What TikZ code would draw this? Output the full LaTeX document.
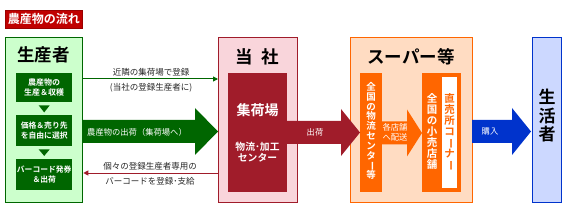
\documentclass[tikz,border=0pt]{standalone}
\usepackage{fontspec}
\setmainfont{Noto Sans CJK JP}[BoldFont={Noto Sans CJK JP Bold}]
\usetikzlibrary{arrows.meta,calc}
\definecolor{titlered}{HTML}{C00000}
\definecolor{dgreen}{HTML}{006600}
\definecolor{lgreen}{HTML}{CCFFCC}
\definecolor{dred}{HTML}{A01C2A}
\definecolor{lpink}{HTML}{F9D5DB}
\definecolor{orng}{HTML}{FF6600}
\definecolor{lorng}{HTML}{FFDCC2}
\definecolor{blu}{HTML}{0033CC}
\definecolor{lblu}{HTML}{CCD8FF}
\newcommand\vbar{\makebox[1em]{\smash{\rotatebox[origin=c]{-90}{ー}}}\vphantom{国}}
\newcommand\fatarrow[5]{%
  \fill[#1] (#2,{#5-11.5}) -- (#3,{#5-11.5}) -- (#3,{#5-23.5}) -- (#4,#5)
    -- (#3,{#5+23.5}) -- (#3,{#5+11.5}) -- (#2,{#5+11.5}) -- cycle;}
\tikzset{
  framebox/.style={draw, line width=1.3pt, rectangle, inner sep=0pt, anchor=north west},
  solidbox/.style={rectangle, inner sep=0pt, anchor=north west},
  lbl/.style={text=black!85, font=\fontsize{8.5}{10}\selectfont, inner sep=0pt},
  wlbl/.style={text=white, font=\fontsize{8.3}{10}\selectfont, inner sep=0pt},
  bigtitle/.style={font=\bfseries\fontsize{17.5}{19}\selectfont, inner sep=0pt},
  smallwhite/.style={text=white, font=\bfseries\fontsize{7.8}{10}\selectfont, align=center, inner sep=0pt},
  thin/.style={line width=1pt},
}
\begin{document}
\begin{tikzpicture}[x=1pt,y=-1pt]
\useasboundingbox (0,0) rectangle (564,208);
% title
\node[solidbox, fill=titlered, draw=titlered!80!black, line width=0.6pt, minimum width=77, minimum height=18] (title) at (5,10) {};
\node[text=white, font=\bfseries\fontsize{12}{12}\selectfont, inner sep=0pt] at (title.center) {農産物の流れ};
% producer
\node[framebox, draw=dgreen, fill=lgreen, minimum width=77, minimum height=165] (farmer) at (5,37) {};
\node[bigtitle] at (43.5,55) {生産者};
\node[solidbox, fill=dgreen, minimum width=56, minimum height=29] (f1) at (16,73) {};
\node[solidbox, fill=dgreen, minimum width=56, minimum height=31] (f2) at (16,115) {};
\node[solidbox, fill=dgreen, minimum width=56, minimum height=31] (f3) at (16,159) {};
\node[smallwhite, font=\bfseries\fontsize{8}{10}\selectfont] at (f1.center) {農産物の\\生産＆収穫};
\node[smallwhite] at (f2.center) {価格＆売り先\\を自由に選択};
\node[smallwhite] at (f3.center) {バーコード発券\\＆出荷};
\fill[dgreen] ($(f1.south)+(-5.5,3)$) -- ($(f1.south)+(5.5,3)$) -- ($(f1.south)+(0,10)$) -- cycle;
\fill[dgreen] ($(f2.south)+(-5.5,3)$) -- ($(f2.south)+(5.5,3)$) -- ($(f2.south)+(0,9.5)$) -- cycle;
% company
\node[framebox, draw=dred, fill=lpink, minimum width=79, minimum height=165] (company) at (218,37) {};
\node[bigtitle] at (257.5,57) {当\hspace{0.5em}社};
\node[solidbox, fill=dred, minimum width=59, minimum height=119] (c1) at (228,73) {};
\node[text=white, font=\bfseries\fontsize{14}{14}\selectfont, inner sep=0pt] at (257.5,110) {集荷場};
\node[text=white, font=\bfseries\fontsize{9.8}{10.5}\selectfont, align=center, inner sep=0pt] at (257.5,152) {物流･加工\\センター};
% supermarket
\node[framebox, draw=orng, fill=lorng, minimum width=122, minimum height=165] (super) at (350,37) {};
\node[bigtitle] at (411,57) {スーパー等};
\node[solidbox, fill=orng, minimum width=22, minimum height=119] (s1) at (360,73) {};
\node[solidbox, fill=orng, minimum width=39, minimum height=119] (s2) at (422,73) {};
\node[solidbox, fill=white, minimum width=15, minimum height=111] (s3) at (442,77) {};
\node[text=white, font=\bfseries\fontsize{9.5}{9.8}\selectfont, align=center, inner sep=0pt] at (371,131) {全\\国\\の\\物\\流\\セ\\ン\\タ\\\vbar\\等};
\node[text=white, font=\bfseries\fontsize{10.5}{11}\selectfont, align=center, inner sep=0pt] at (432,131.5) {全\\国\\の\\小\\売\\店\\舗};
\node[text=orng, font=\bfseries\fontsize{10.5}{11}\selectfont, align=center, inner sep=0pt] at (449.5,131.5) {直\\売\\所\\コ\\\vbar\\ナ\\\vbar};
% consumer
\node[framebox, draw=blu, fill=lblu, minimum width=29, minimum height=165] (consumer) at (532,37) {};
\node[font=\bfseries\fontsize{17}{18.5}\selectfont, align=center, inner sep=0pt] at (547,116) {生\\活\\者};
% fat arrows
\fatarrow{dgreen}{82}{195}{218}{131.5}
\fatarrow{dred}{287}{341}{360}{132.5}
\fatarrow{orng}{382}{407}{422}{133}
\fatarrow{blu}{472}{512}{531}{131.5}
\node[wlbl] at (137,132) {農産物の出荷（集荷場へ）};
\node[wlbl] at (315,132.5) {出荷};
\node[wlbl, align=center] at (395,132) {各店舗\\へ配送};
\node[wlbl] at (490,131.5) {購入};
% thin arrows
\coordinate (gl) at (0,79);
\coordinate (rl) at (0,173);
\draw[dgreen, thin, -{Triangle[length=5pt,width=5pt]}] (farmer.east |- gl) -- (company.west |- gl);
\draw[dred, thin, -{Triangle[length=5pt,width=5pt]}] (company.west |- rl) -- (farmer.east |- rl);
\node[lbl] at (151,72) {近隣の集荷場で登録};
\node[lbl] at (151,88) {(当社の登録生産者に)};
\node[lbl] at (150,166) {個々の登録生産者専用の};
\node[lbl] at (150,181) {バーコードを登録･支給};
\end{tikzpicture}
\end{document}
